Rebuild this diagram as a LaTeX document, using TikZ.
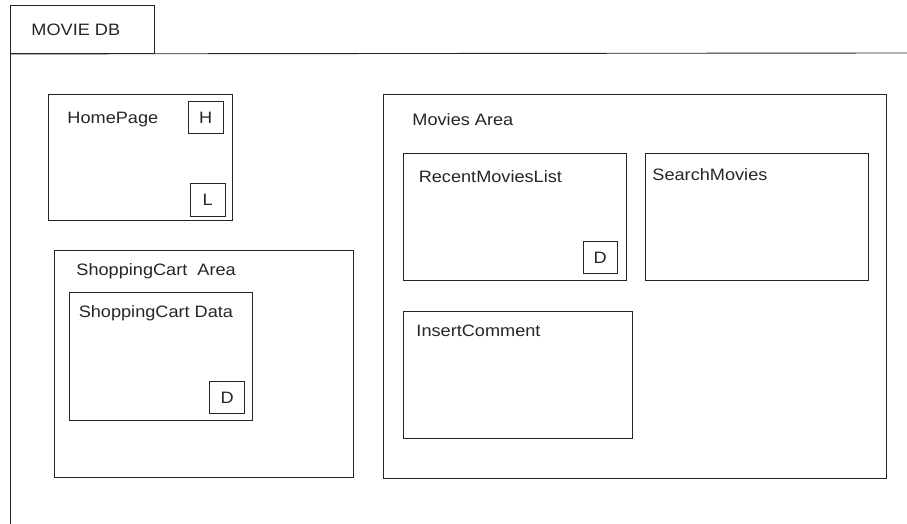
\documentclass[tikz,border=0pt]{standalone}
\usepackage{fontspec}
\setmainfont{Liberation Sans}[FakeStretch=1.1]
\begin{document}
\begin{tikzpicture}[x=1pt,y=-1pt,
  line width=0.9pt,
  frame/.style={draw=black!85, line width=0.9pt, rectangle, inner sep=0pt, anchor=north west},
  lbl/.style={anchor=west, inner sep=0pt, text=black!85, font=\fontsize{16.5}{18}\selectfont},
  tag/.style={draw=black!85, line width=0.9pt, rectangle, inner sep=0pt, anchor=north west, text=black!85, font=\fontsize{16.5}{18}\selectfont}]
\useasboundingbox (0,0) rectangle (907,524);
% outer frame with tab
\node[frame, minimum width=144pt, minimum height=48pt] (tab) at (10,5) {};
\node[lbl] (tabtxt) at (31,30) {MOVIE DB};
\coordinate (hr) at (907,53);
\coordinate (bl) at (10,524);
\draw[black!85] (tab.south west) -- (hr);
\draw[black!85] (tab.south west) -- (bl);
% HomePage
\node[frame, minimum width=184pt, minimum height=126pt] (home) at (48,94) {};
\node[lbl] (hometxt) at (67,119.5) {HomePage};
\node[tag, minimum width=34.5pt, minimum height=32.5pt] (H) at (188,101) {H};
\node[tag, minimum width=34.5pt, minimum height=32.5pt] (L) at (190,183) {L};
% ShoppingCart Area
\node[frame, minimum width=299pt, minimum height=226.5pt] (cart) at (54.3,250) {};
\node[lbl] (carttxt) at (76,271) {ShoppingCart\ \ Area};
\node[frame, minimum width=182.7pt, minimum height=127.7pt] (cartdata) at (69.3,292.3) {};
\node[lbl] (cartdatatxt) at (78.3,313) {ShoppingCart Data};
\node[tag, minimum width=34.7pt, minimum height=32pt] (D1) at (209.3,381) {D};
% Movies Area
\node[frame, minimum width=502.7pt, minimum height=384.3pt] (movies) at (383.3,94) {};
\node[lbl] (moviestxt) at (412,119.5) {Movies Area};
\node[frame, minimum width=223pt, minimum height=126.7pt] (recent) at (403.3,153.3) {};
\node[lbl] (recenttxt) at (418.3,177) {RecentMoviesList};
\node[tag, minimum width=34pt, minimum height=32.3pt] (D2) at (582.7,241) {D};
\node[frame, minimum width=223pt, minimum height=126.7pt] (search) at (644.7,153.3) {};
\node[lbl] (searchtxt) at (652,175) {SearchMovies};
\node[frame, minimum width=228.7pt, minimum height=127.6pt] (comment) at (403.3,310.7) {};
\node[lbl] (commenttxt) at (416,331) {InsertComment};
\end{tikzpicture}
\end{document}
